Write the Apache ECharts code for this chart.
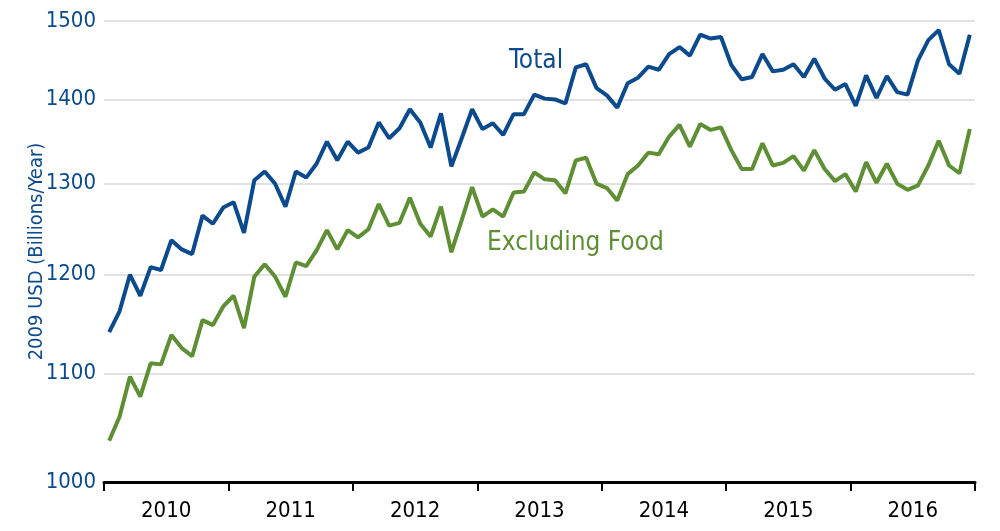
<!doctype html>
<html>
<head>
    <meta charset="utf-8">
    <title>Total vs Excluding Food</title>
    <script src="https://cdnjs.cloudflare.com/ajax/libs/echarts/6.0.0/echarts.min.js"></script>
</head>
<style>
    html, body, #chart {
        margin: 0;
        height: 100%;
        width: 100%;
        background: #fff;
    }
</style>
<body>
<div id="chart"></div>
<script>
  // values, monthly Jan 2010 - Dec 2016
  var years = ['2010', '2011', '2012', '2013', '2014', '2015', '2016'];
  var total = [
    1141, 1162, 1200, 1178, 1208, 1205, 1237, 1227, 1222, 1264, 1255, 1273,
    1279, 1245, 1304, 1314, 1300, 1274, 1314, 1307, 1323, 1349, 1327, 1349,
    1336, 1342, 1372, 1353, 1365, 1388, 1372, 1342, 1383, 1320, 1353, 1388,
    1364, 1371, 1357, 1382, 1382, 1406, 1401, 1400, 1395, 1440, 1444, 1414,
    1405, 1390, 1420, 1427, 1441, 1437, 1457, 1466, 1455, 1482, 1477, 1479,
    1443, 1425, 1428, 1457, 1435, 1437, 1444, 1428, 1451, 1426, 1412, 1419,
    1392, 1430, 1402, 1429, 1409, 1406, 1449, 1475, 1488, 1444, 1432, 1482
  ];
  var exFood = [
    1037, 1059, 1097, 1078, 1110, 1109, 1138, 1125, 1117, 1153, 1148, 1167,
    1178, 1145, 1198, 1211, 1198, 1177, 1213, 1209, 1226, 1248, 1227, 1248,
    1240, 1249, 1277, 1253, 1256, 1284, 1255, 1241, 1274, 1224, 1259, 1296,
    1263, 1271, 1263, 1290, 1291, 1313, 1305, 1304, 1289, 1327, 1330, 1300,
    1295, 1281, 1311, 1321, 1336, 1334, 1355, 1369, 1343, 1370, 1363, 1366,
    1339, 1317, 1317, 1347, 1321, 1324, 1332, 1315, 1339, 1317, 1303, 1311,
    1291, 1325, 1301, 1323, 1300, 1293, 1298, 1321, 1350, 1321, 1312, 1364
  ];
  var yTicks = [1000, 1100, 1200, 1300, 1400, 1500];

  var months = [];
  years.forEach(function (y) {
    for (var m = 1; m <= 12; m++) {
      months.push(y + '-' + (m < 10 ? '0' + m : m));
    }
  });

  var FONT = '"DejaVu Sans Condensed", "Liberation Sans Narrow", sans-serif';
  var BLUE = '#0b4a8c';
  var GREEN = '#5e8f34';

  var myChart = echarts.init(document.getElementById('chart'));
  var option = {
    animation: false,
    grid: { left: 104, right: 25, top: 21, bottom: 49 },
    xAxis: [{
      type: 'category',
      data: years,
      boundaryGap: true,
      axisLine: { lineStyle: { color: '#000', width: 3 } },
      axisTick: { show: true, interval: 0, length: 9, lineStyle: { color: '#000', width: 2 } },
      axisLabel: { color: '#000', fontFamily: FONT, fontSize: 22, margin: 18 },
      splitLine: { show: false }
    }, {
      type: 'category',
      data: months,
      boundaryGap: true,
      show: false
    }],
    yAxis: {
      type: 'log',
      logBase: 10,
      min: 1000,
      max: 1500,
      name: '2009 USD (Billions/Year)',
      nameLocation: 'middle',
      nameGap: 57,
      nameMoveOverlap: false,
      nameTextStyle: { color: BLUE, fontFamily: FONT, fontSize: 20 },
      axisLine: { show: false },
      axisTick: { show: false, customValues: yTicks },
      axisLabel: {
        customValues: yTicks,
        formatter: function (v) { return String(Math.round(v)); },
        color: BLUE, fontFamily: FONT, fontSize: 22, margin: 8
      },
      splitLine: { show: true, lineStyle: { color: '#d9d9d9', width: 1.5 } }
    },
    series: [{
      name: 'Total',
      type: 'line',
      xAxisIndex: 1,
      data: total,
      symbol: 'none',
      lineStyle: { color: BLUE, width: 4 },
      z: 3
    }, {
      name: 'Excluding Food',
      type: 'line',
      xAxisIndex: 1,
      data: exFood,
      symbol: 'none',
      lineStyle: { color: GREEN, width: 4 },
      z: 2
    }],
    graphic: [{
      type: 'text',
      left: 509,
      top: 48,
      style: { text: 'Total', fill: BLUE, font: '26px ' + FONT }
    }, {
      type: 'text',
      left: 487,
      top: 230,
      style: { text: 'Excluding Food', fill: GREEN, font: '26px ' + FONT }
    }]
  };

  myChart.setOption(option);
</script>
</body>
</html>
